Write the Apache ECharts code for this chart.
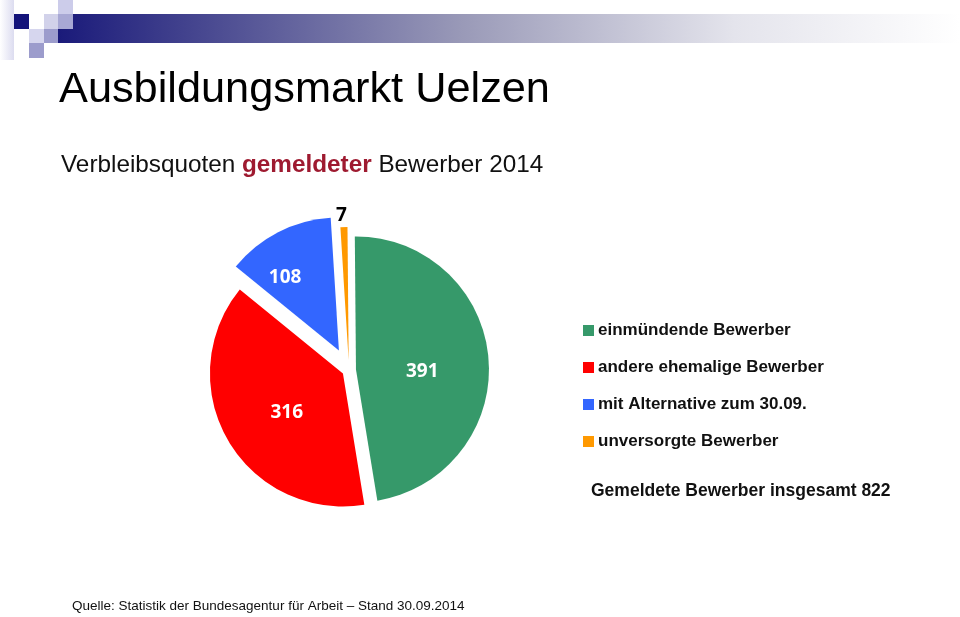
<!DOCTYPE html>
<html>
<head>
<meta charset="utf-8">
<script src="https://cdn.jsdelivr.net/npm/echarts@6/dist/echarts.min.js"></script>
<style>
html,body{margin:0;padding:0;background:#fff;}
#main{width:960px;height:617px;}
</style>
</head>
<body>
<div id="main"></div>
<script>
const categories = ['einmündende Bewerber', 'andere ehemalige Bewerber', 'mit Alternative zum 30.09.', 'unversorgte Bewerber'];
const values = [391, 316, 108, 7];
const total = 822;

// styling (not data)
const colors = ['#36996a', '#ff0000', '#3366ff', '#ff9900'];
const explode = [7, 7, 22, 10];
const labelShift = [[-3, 8], [4, 4], [-22, -11], [8, -8]];

const chart = echarts.init(document.getElementById('main'));
const FONT = '"Liberation Sans", Arial, sans-serif';
const LABELFONT = '"Open Sans", "Noto Sans", sans-serif';

// one pie layer per slice so each slice can have its own explosion distance
const pieSeries = categories.map((cat, k) => ({
  type: 'pie',
  name: cat,
  center: [349, 370],
  radius: 133,
  startAngle: 90.5,
  clockwise: true,
  selectedMode: 'multiple',
  selectedOffset: explode[k],
  avoidLabelOverlap: false,
  silent: true,
  emphasis: { disabled: true },
  labelLine: { show: false, length: 3, length2: 0 },
  labelLayout: { dx: labelShift[k][0], dy: labelShift[k][1] },
  data: categories.map((c, i) => ({
    name: c,
    value: values[i],
    selected: i === k,
    itemStyle: { color: i === k ? colors[i] : 'rgba(0,0,0,0)' },
    label: i === k ? (k === 3
      ? { show: true, position: 'outside', formatter: '{c}', fontFamily: LABELFONT, fontWeight: 'bold', fontSize: 19, color: '#000' }
      : { show: true, position: 'inside', formatter: '{c}', fontFamily: LABELFONT, fontWeight: 'bold', fontSize: 19, color: '#fff' })
      : { show: false }
  }))
}));

const option = {
  animation: false,
  backgroundColor: '#fff',
  title: [
    { text: 'Ausbildungsmarkt Uelzen', left: 59, top: 69, padding: 0,
      textStyle: { fontFamily: FONT, fontSize: 43.3, fontWeight: 'normal', color: '#000' } },
    { text: '{n|Verbleibsquoten }{b|gemeldeter}{n| Bewerber 2014}', left: 61, top: 153, padding: 0,
      textStyle: { fontWeight: 'normal', rich: {
        n: { fontFamily: FONT, fontSize: 24.3, fontWeight: 'normal', color: '#111' },
        b: { fontFamily: FONT, fontSize: 24.3, fontWeight: 'bold', color: '#9e1a30' }
      } } }
  ],
  legend: {
    orient: 'vertical',
    left: 583, top: 322, padding: 0,
    itemWidth: 11, itemHeight: 11, itemGap: 20,
    icon: 'rect',
    selectedMode: false,
    data: categories.map((c, i) => ({ name: c, itemStyle: { color: colors[i] } })),
    textStyle: { fontFamily: FONT, fontSize: 17, fontWeight: 'bold', color: '#111', padding: [0, 0, 0, -1] }
  },
  graphic: [
    { type: 'rect', shape: { x: 0, y: 0, width: 14, height: 60 },
      style: { fill: new echarts.graphic.LinearGradient(0, 0, 1, 0, [{offset: 0, color: '#ffffff'}, {offset: 1, color: '#dcdcf0'}]) } },
    { type: 'rect', shape: { x: 58, y: 14, width: 902, height: 29 },
      style: { fill: new echarts.graphic.LinearGradient(0, 0, 1, 0, [
        {offset: 0, color: '#1a1a7a'}, {offset: 0.45, color: '#9a9ab8'}, {offset: 0.75, color: '#e4e4ec'}, {offset: 1, color: '#ffffff'}]) } },
    { type: 'rect', shape: { x: 14, y: 14, width: 15, height: 15 }, style: { fill: '#14147a' } },
    { type: 'rect', shape: { x: 58, y: 0, width: 15, height: 14 }, style: { fill: '#ccccea' } },
    { type: 'rect', shape: { x: 44, y: 14, width: 14, height: 15 }, style: { fill: '#d2d2ea' } },
    { type: 'rect', shape: { x: 58, y: 14, width: 15, height: 15 }, style: { fill: '#a8a8d4' } },
    { type: 'rect', shape: { x: 29, y: 29, width: 15, height: 14 }, style: { fill: '#d6d6ee' } },
    { type: 'rect', shape: { x: 44, y: 29, width: 14, height: 14 }, style: { fill: '#9c9ccc' } },
    { type: 'rect', shape: { x: 29, y: 43, width: 15, height: 15 }, style: { fill: '#9c9ccc' } },
    { type: 'text', left: 591, top: 482,
      style: { text: 'Gemeldete Bewerber insgesamt ' + total, font: 'bold 17.5px ' + FONT, fill: '#111' } },
    { type: 'text', left: 72, top: 599,
      style: { text: 'Quelle: Statistik der Bundesagentur für Arbeit – Stand 30.09.2014', font: '13.5px ' + FONT, fill: '#111' } }
  ],
  series: pieSeries
};
chart.setOption(option);
</script>
</body>
</html>
